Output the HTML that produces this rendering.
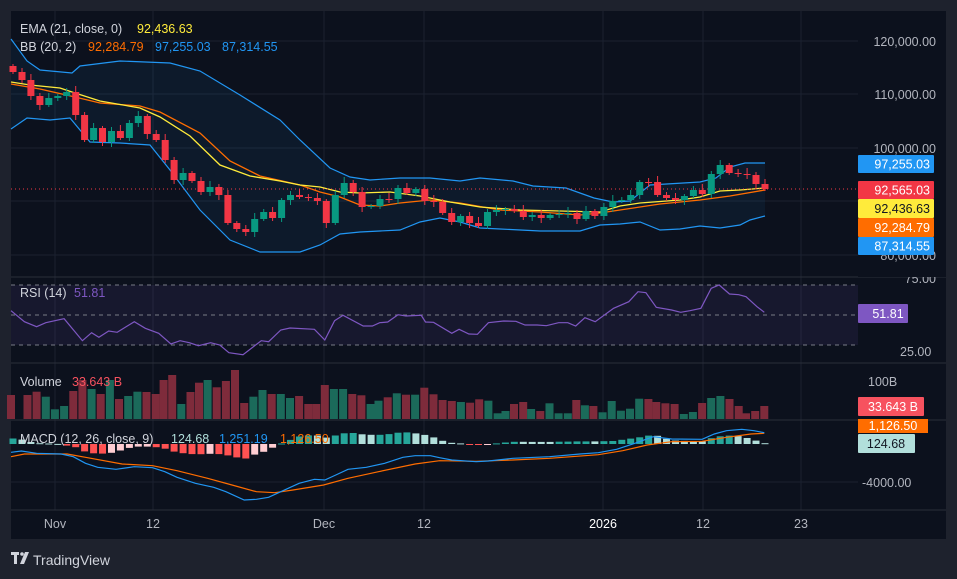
<!DOCTYPE html>
<html><head><meta charset="utf-8"><style>
body{margin:0;background:#1e222d;width:957px;height:579px;overflow:hidden;font-family:"Liberation Sans",sans-serif;}
svg{position:absolute;left:0;top:0}
text{font-family:"Liberation Sans",sans-serif;}
</style></head><body>
<svg id="s" width="957" height="579" xmlns="http://www.w3.org/2000/svg"></svg>
<script>
const S=document.getElementById('s');let h='';
h+='<rect x="0" y="0" width="957" height="579" fill="#1e222d"/>';
h+='<rect x="11" y="11" width="935" height="528" fill="#0c111d"/>';
[55,153,324,424,603,703,801].forEach(x=>h+=`<line x1="${x}" y1="11" x2="${x}" y2="510" stroke="#1b2130" stroke-width="1"/>`);
[41,94,148,201,255].forEach(y=>h+=`<line x1="11" y1="${y}" x2="858" y2="${y}" stroke="#1b2130"/>`);
h+='<line x1="11" y1="482" x2="858" y2="482" stroke="#1b2130"/>';
[277,363,420,510].forEach(y=>h+=`<line x1="11" y1="${y}" x2="946" y2="${y}" stroke="#2a2e39" stroke-width="1"/>`);
function pl(pts){return pts.map(p=>p.join(',')).join(' ');}
const up=[[11,39],[27,61],[40,70],[72,73],[80,66],[120,61],[170,63],[200,71],[240,95],[280,120],[300,140],[330,168],[350,177],[370,180],[400,178],[430,178],[460,181],[480,178],[513,181],[533,186],[566,188],[594,198],[613,202],[630,201],[650,185],[700,182],[716,178],[730,167],[745,163],[765,163]];
const lo=[[11,129],[27,118],[50,120],[70,118],[90,142],[120,143],[150,145],[170,170],[200,210],[230,240],[260,252],[300,252],[320,245],[340,234],[360,232],[380,231],[400,230],[420,222],[440,218],[460,222],[480,228],[500,229],[540,231],[580,231],[600,225],[620,224],[640,222],[660,230],[680,229],[700,226],[720,228],[740,225],[750,220],[765,216]];
h+=`<polygon points="${pl(up)} ${pl(lo.slice().reverse())}" fill="rgba(33,150,243,0.07)"/>`;
h+=`<polyline points="${pl(up)}" fill="none" stroke="#2196f3" stroke-width="1.2"/>`;
h+=`<polyline points="${pl(lo)}" fill="none" stroke="#2196f3" stroke-width="1.2"/>`;
const ema=[[11,82],[30,85],[60,88],[75,93],[100,101],[140,108],[160,117],[190,136],[220,165],[250,176],[280,181],[300,185],[320,187],[340,192],[360,193],[390,192],[420,196],[450,202],[480,207],[520,210],[560,211],[600,212],[620,206],[640,203],[680,200],[700,197],[720,191],[740,190],[765,188]];
const sma=[[11,84],[40,89],[75,97],[100,103],[140,106],[160,112],[200,133],[230,161],[260,176],[300,185],[320,192],[340,197],[360,205],[380,206],[400,203],[430,200],[460,203],[500,210],[540,212],[580,215],[600,213],[620,210],[660,204],[700,200],[730,196],[765,190]];
h+=`<polyline points="${pl(sma)}" fill="none" stroke="#ff6d00" stroke-width="1.3"/>`;
h+=`<polyline points="${pl(ema)}" fill="none" stroke="#ffeb3b" stroke-width="1.3"/>`;
h+='<line x1="11" y1="189" x2="858" y2="189" stroke="#f23645" stroke-dasharray="1,3" stroke-width="1"/>';
const cl=[72,80,96,105,98,96,92,115,140,128,142,131,138,123,116,134,140,160,180,173,181,192,187,195,223,229,232,219,212,218,200,195,197,198,201,223,195,183,192,207,206,199,199,188,193,189,201,202,213,222,216,223,226,212,210,209,211,217,215,218,215,214,213,219,211,216,207,201,200,195,182,182,195,198,200,196,190,194,174,165,173,174,175,184,189];
const N=cl.length;const cx=[];const cc=[];
const sp=(765-13)/(N-1);
let op=66;
for(let i=0;i<N;i++){const x=+(13+sp*i).toFixed(1);cx.push(x);const c=cl[i];const g=c<op;cc.push(g);const col=g?'#089981':'#f23645';
const t=Math.min(op,c),b=Math.max(op,c);const wt=t-2-((i*7)%5),wb=b+2+((i*5)%4);
h+=`<line x1="${x}" y1="${wt}" x2="${x}" y2="${wb}" stroke="${col}"/>`;
h+=`<rect x="${x-3.5}" y="${t}" width="7" height="${Math.max(1,b-t)}" fill="${col}"/>`;op=c;}
h+='<rect x="11" y="285" width="847" height="60" fill="rgba(126,87,194,0.1)"/>';
[285,315,345].forEach(y=>h+=`<line x1="11" y1="${y}" x2="858" y2="${y}" stroke="#787b86" stroke-dasharray="4,4" stroke-width="1"/>`);
const rz=[[18,92],[40,125],[60,140],[75,128],[105,116],[135,182],[150,158],[162,172],[178,153],[192,157],[220,125],[238,145],[260,160],[280,192],[295,182],[310,188],[325,197],[345,188],[360,195],[375,218],[398,224],[428,182],[440,185],[460,150],[475,144],[515,148],[532,180],[548,122],[562,106],[595,138],[610,138],[622,128],[635,126],[652,104],[665,108],[690,106],[697,126],[710,127],[740,160],[752,148],[768,162],[782,163],[800,128],[825,123],[845,124],[860,135],[880,135],[895,137],[915,128],[930,128],[943,138],[958,113],[975,125],[1005,85],[1030,65],[1045,35],[1058,38],[1075,82],[1100,90],[1115,97],[1130,92],[1148,85],[1165,25],[1178,15],[1195,42],[1210,44],[1222,50],[1240,80],[1252,97]];
const Z=p=>[ (p[0]/1.638).toFixed(1), (280+p[1]/3).toFixed(1)];
h+=`<polyline points="${pl(rz.map(Z))}" fill="none" stroke="#7e57c2" stroke-width="1.2"/>`;
const vz=[[18,345],[45,345],[60,335],[75,350],[90,388],[105,378],[120,333],[135,300],[150,327],[165,342],[180,300],[195,357],[210,348],[225,335],[240,336],[255,342],[268,300],[282,285],[297,372],[312,336],[326,308],[340,300],[355,322],[370,303],[385,270],[400,369],[415,350],[430,330],[445,342],[460,342],[475,354],[490,348],[505,372],[518,372],[532,315],[547,327],[562,327],[577,342],[592,346],[607,372],[620,362],[635,352],[650,340],[665,344],[680,344],[695,323],[710,343],[725,360],[740,363],[755,366],[770,368],[785,358],[800,362],[815,400],[828,393],[842,372],[857,366],[870,387],[885,393],[900,370],[915,400],[930,400],[944,360],[958,376],[972,378],[987,397],[1002,363],[1017,392],[1032,386],[1047,356],[1062,357],[1075,366],[1090,370],[1105,372],[1120,402],[1135,396],[1150,369],[1165,354],[1180,348],[1195,357],[1210,378],[1222,400],[1237,393],[1252,378]];
vz.forEach(p=>{const x=p[0]/1.638,y=280+p[1]/3;let bi=0,bd=1e9;cx.forEach((c,i)=>{const d=Math.abs(c-x);if(d<bd){bd=d;bi=i}});
h+=`<rect x="${(x-4).toFixed(1)}" y="${y.toFixed(1)}" width="8" height="${(419-y).toFixed(1)}" fill="${cc[bi]?'#1b6a5a':'#7e2b3b'}"/>`;});
const mz=[[18,517],[35,513],[60,520],[100,522],[120,530],[140,550],[160,562],[190,568],[220,560],[250,563],[270,575],[290,592],[320,610],[350,622],[370,635],[400,660],[420,658],[440,652],[460,635],[490,610],[515,598],[532,600],[550,585],[570,568],[600,562],[630,550],[660,532],[680,527],[705,527],[720,533],[740,540],[780,545],[800,543],[840,535],[900,530],[950,522],[980,518],[1010,508],[1040,490],[1070,470],[1100,477],[1150,478],[1170,462],[1190,452],[1215,448],[1235,452],[1252,458]];
const sz=[[18,530],[40,522],[110,522],[140,532],[200,552],[250,557],[290,572],[340,595],[380,615],[420,635],[450,638],[480,630],[530,615],[570,595],[620,575],[680,552],[720,542],[780,544],[840,540],[900,535],[980,524],[1020,512],[1060,495],[1100,485],[1150,484],[1190,472],[1230,462],[1252,460]];
const M=mz.map(Z).map(p=>p.map(Number)),G=sz.map(Z).map(p=>p.map(Number));
function interp(a,x){for(let i=1;i<a.length;i++){if(x<=a[i][0]){const t=(x-a[i-1][0])/(a[i][0]-a[i-1][0]);return a[i-1][1]+t*(a[i][1]-a[i-1][1]);}}return a[a.length-1][1];}
let prev=0;
cx.forEach(x=>{if(x<12)return;const d=(interp(G,x)-interp(M,x))*1.3;let col;
if(d>=0)col=d>=prev?'#26a69a':'#b2dfdb';else col=d<=prev?'#ff5252':'#ffcdd2';prev=d;
const y=d>=0?444-d:444;h+=`<rect x="${x-3.5}" y="${y.toFixed(1)}" width="7" height="${Math.max(1,Math.abs(d)).toFixed(1)}" fill="${col}"/>`;});
h+=`<polyline points="${pl(G)}" fill="none" stroke="#ff6d00" stroke-width="1.2"/>`;
h+=`<polyline points="${pl(M)}" fill="none" stroke="#2196f3" stroke-width="1.2"/>`;
const T=(x,y,t,c,a,sz)=>h+=`<text x="${x}" y="${y}" fill="${c}" font-size="${sz||12.5}" text-anchor="${a||'start'}">${t}</text>`;
[[41,'120,000.00'],[94,'110,000.00'],[148,'100,000.00'],[255,'80,000.00']].forEach(v=>T(936,v[0]+5,v[1],'#b2b5be','end'));
T(936,283,'75.00','#b2b5be','end');T(900,356,'25.00','#b2b5be','start');
T(868,386,'100B','#b2b5be');T(862,487,'-4000.00','#b2b5be');
h+='<rect x="858" y="269" width="88" height="8" fill="#0c111d"/>';
const tag=(y,hh,bg,fg,t)=>{h+=`<rect x="858" y="${y}" width="76" height="${hh}" rx="1" fill="${bg}"/>`;T(930,y+hh/2+4.5,t,fg,'end');};
tag(155,18,'#2196f3','#fff','97,255.03');
tag(181,18,'#f23645','#fff','92,565.03');
tag(199,19,'#ffeb3b','#131722','92,436.63');
tag(218,19,'#ff6d00','#fff','92,284.79');
tag(237,18,'#2196f3','#fff','87,314.55');
h+=`<rect x="858" y="304" width="50" height="19" rx="1" fill="#7e57c2"/>`;T(888,318,'51.81','#fff','middle');
h+=`<rect x="858" y="397" width="66" height="19" rx="1" fill="#f7525f"/>`;T(893,411,'33.643 B','#fff','middle');
h+=`<rect x="858" y="419" width="70" height="14" fill="#ff6d00"/>`;T(893,430,'1,126.50','#fff','middle');
h+=`<rect x="858" y="434" width="57" height="19" rx="1" fill="#b2dfdb"/>`;T(886,448,'124.68','#131722','middle');
T(20,33,'EMA (21, close, 0)','#d1d4dc');T(137,33,'92,436.63','#ffeb3b');
T(20,51,'BB (20, 2)','#d1d4dc');T(88,51,'92,284.79','#ff6d00');T(155,51,'97,255.03','#2196f3');T(222,51,'87,314.55','#2196f3');
T(20,297,'RSI (14)','#d1d4dc');T(74,297,'51.81','#7e57c2');
T(20,386,'Volume','#d1d4dc');T(72,386,'33.643 B','#f7525f');
T(20,443,'MACD (12, 26, close, 9)','#d1d4dc');T(171,443,'124.68','#b2dfdb');T(219,443,'1,251.19','#2196f3');T(280,443,'1,126.50','#ff6d00');
[[55,'Nov'],[153,'12'],[324,'Dec'],[424,'12'],[603,'2026'],[703,'12'],[801,'23']].forEach(v=>T(v[0],528,v[1],v[1]=='2026'?'#ffffff':'#b2b5be','middle'));
h+='<rect x="11" y="552" width="8" height="3" fill="#d1d4dc"/><rect x="14" y="552" width="3" height="12" fill="#d1d4dc"/><circle cx="22" cy="554" r="1.8" fill="#d1d4dc"/><polygon points="25,552 29,552 24,564 20,564" fill="#d1d4dc"/>';
T(33,565,'TradingView','#d1d4dc','start',14);
S.innerHTML=h;
</script>
</body></html>
